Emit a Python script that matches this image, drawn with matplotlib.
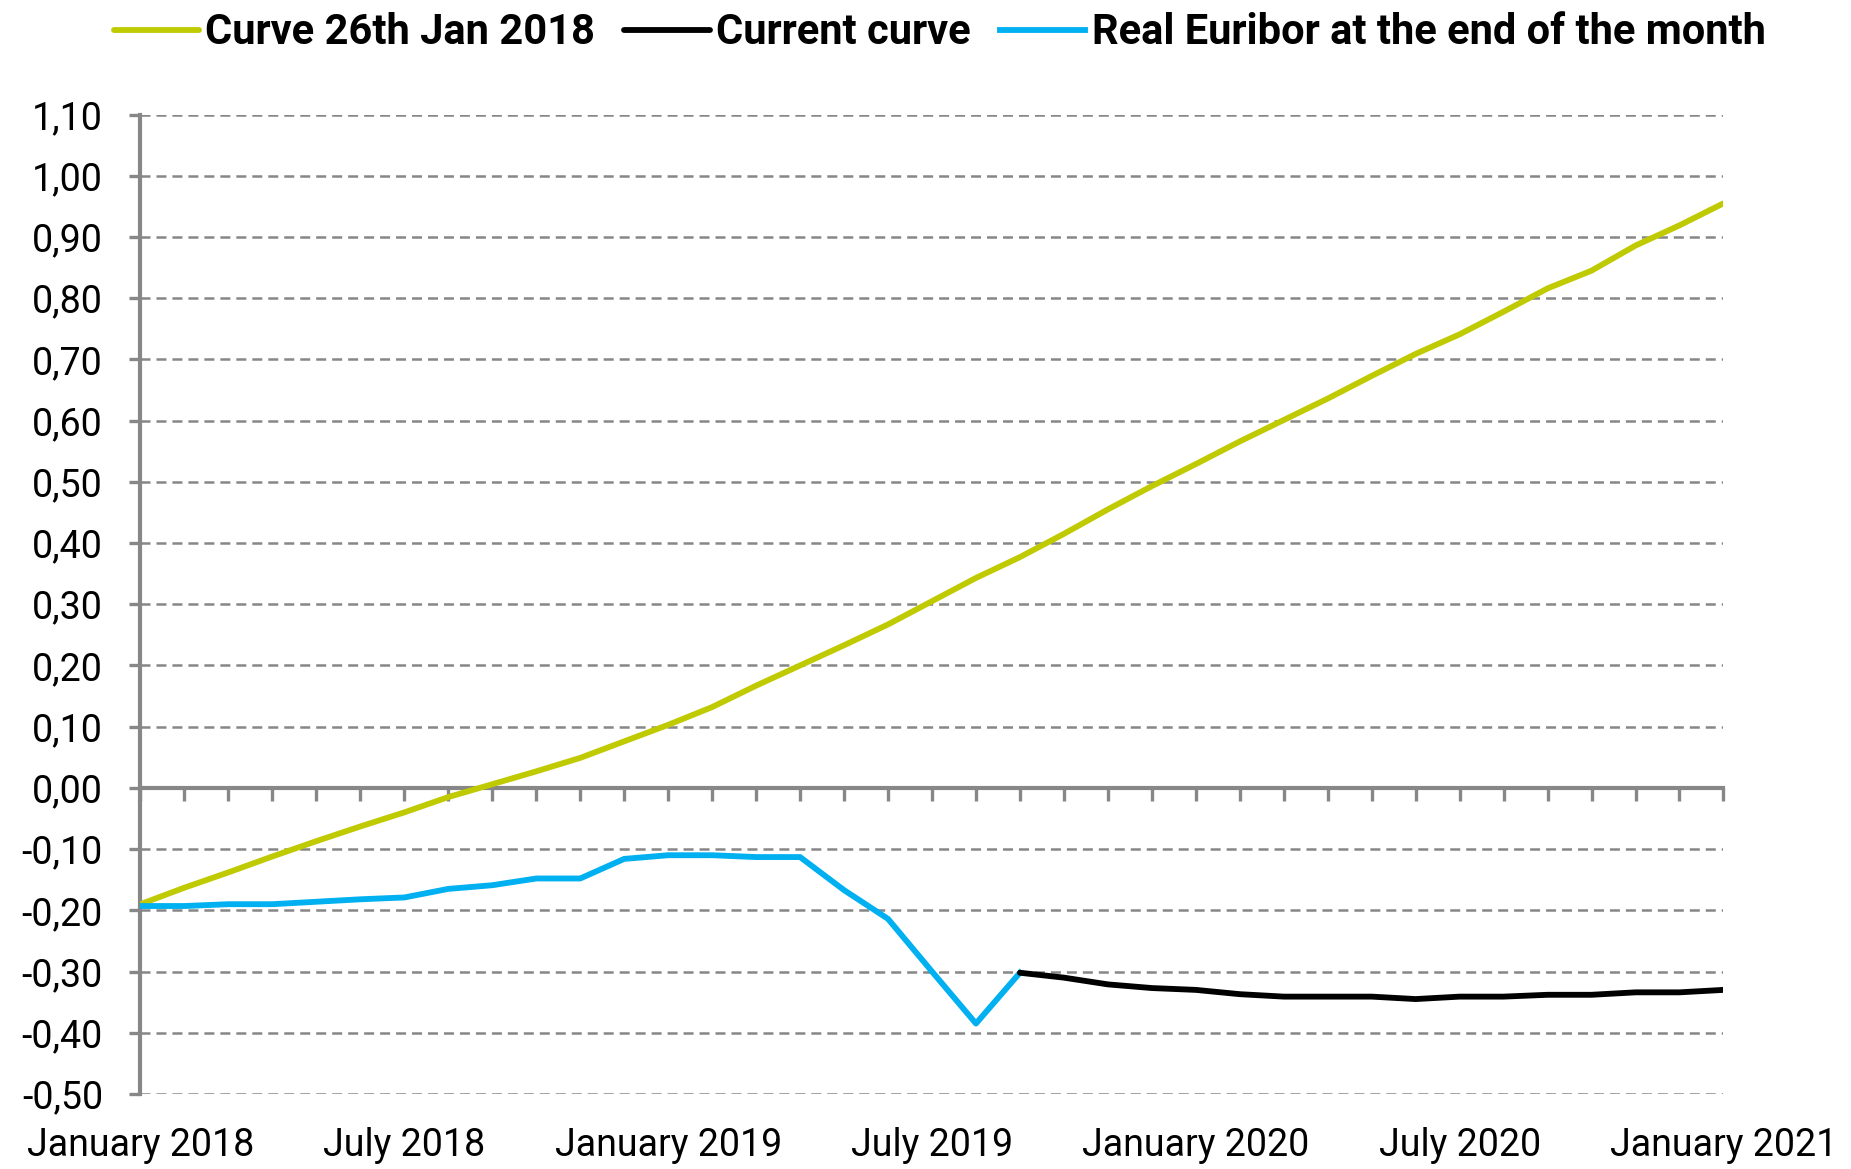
import matplotlib
matplotlib.use("Agg")
import matplotlib.pyplot as plt
from matplotlib.ticker import FixedLocator, FuncFormatter

plt.rcParams['font.family'] = ['Roboto', 'DejaVu Sans']
plt.rcParams['lines.scale_dashes'] = False

# ---- data (monthly, Jan 2018 .. Jan 2021) ----
months = list(range(37))
month_labels = ["January 2018", "July 2018", "January 2019", "July 2019",
                "January 2020", "July 2020", "January 2021"]
label_positions = [0, 6, 12, 18, 24, 30, 36]

curve_jan2018 = [-0.190, -0.163, -0.138, -0.112, -0.087, -0.063, -0.040, -0.015,
                 0.006, 0.027, 0.049, 0.076, 0.103, 0.132, 0.167, 0.200,
                 0.233, 0.267, 0.305, 0.343, 0.377, 0.415, 0.455, 0.493,
                 0.529, 0.566, 0.601, 0.636, 0.673, 0.709, 0.741, 0.778,
                 0.816, 0.845, 0.886, 0.919, 0.955]

real_months = list(range(21))
real_euribor = [-0.193, -0.193, -0.190, -0.190, -0.186, -0.182, -0.179, -0.165,
                -0.159, -0.148, -0.148, -0.116, -0.110, -0.110, -0.113, -0.113,
                -0.167, -0.214, -0.300, -0.385, -0.302]

current_months = list(range(20, 37))
current_curve = [-0.302, -0.310, -0.321, -0.327, -0.330, -0.337, -0.341, -0.341,
                 -0.341, -0.345, -0.341, -0.341, -0.338, -0.338, -0.334, -0.334,
                 -0.330]

y_ticks = [round(-0.5 + 0.1 * k, 2) for k in range(17)]

GREEN = "#BFCA00"
BLUE = "#00B0F0"
BLACK = "#000000"
GREY = "#878787"

fig = plt.figure(figsize=(18.51, 11.69), dpi=100)
ax = fig.add_axes([0.0759, 0.0642, 0.8552, 0.8378])

ax.set_xlim(0, 36)
ax.set_ylim(-0.5, 1.1)

# gridlines
ax.yaxis.set_major_locator(FixedLocator(y_ticks))
ax.grid(axis='y', color=GREY, linewidth=1.8, linestyle=(0, (7.2, 4.3)), zorder=0)
ax.grid(axis='x', visible=False)
ax.set_axisbelow(True)

LW = 4.2
l1, = ax.plot(months, curve_jan2018, color=GREEN, linewidth=LW, zorder=3,
              solid_capstyle='round', label="Curve 26th Jan 2018")
l3, = ax.plot(real_months, real_euribor, color=BLUE, linewidth=LW, zorder=3,
              label="Real Euribor at the end of the month")
l2, = ax.plot(current_months, current_curve, color=BLACK, linewidth=LW, zorder=4,
              solid_capstyle='round', label="Current curve")

# spines
for s in ['top', 'right']:
    ax.spines[s].set_visible(False)
ax.spines['left'].set_color(GREY)
ax.spines['left'].set_linewidth(3.0)
ax.spines['bottom'].set_position(('data', 0))
ax.spines['bottom'].set_color(GREY)
ax.spines['bottom'].set_linewidth(3.0)
ax.spines['bottom'].set_zorder(2)

# y ticks
ax.yaxis.set_major_formatter(FuncFormatter(lambda v, p: f"{v:.2f}".replace('.', ',')))
ax.tick_params(axis='y', direction='out', length=8, width=2.4, color=GREY,
               labelsize=27, pad=19, labelcolor='black')

# month ticks on the zero line
ax.xaxis.set_major_locator(FixedLocator(months))
ax.tick_params(axis='x', direction='out', length=9, width=2.4, color=GREY,
               labelbottom=False)

# labels at bottom
sec = ax.secondary_xaxis('bottom')
sec.set_xticks(label_positions)
sec.set_xticklabels(month_labels)
sec.tick_params(axis='x', length=0, labelsize=27, pad=24)
sec.spines['bottom'].set_visible(False)

fig.legend(handles=[l1, l2, l3], loc='center', bbox_to_anchor=(0.5076, 0.972),
           ncol=3, frameon=False, handlelength=2.05, handletextpad=0.15,
           columnspacing=0.7, prop={'size': 30, 'weight': 'bold'})

fig.savefig("out.png", dpi=100)
